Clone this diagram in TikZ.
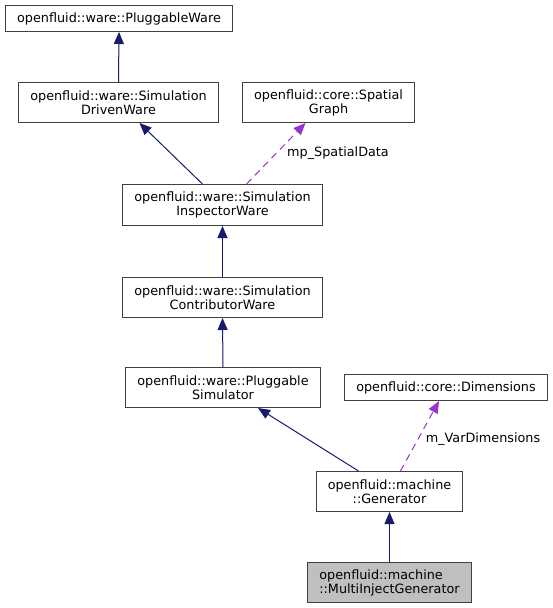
\documentclass[tikz,border=0pt]{standalone}
\usepackage{fontspec}
\setmainfont{DejaVu Sans}
\usetikzlibrary{arrows.meta}
\definecolor{edgeblue}{HTML}{191970}
\definecolor{edgepurple}{HTML}{9A32CD}
\definecolor{boxborder}{HTML}{404040}
\begin{document}
\begin{tikzpicture}[x=1pt,y=-1pt,
  cls/.style={draw=boxborder, line width=1pt, fill=white, inner sep=0pt, align=center,
    font=\fontsize{12.8}{14}\selectfont, anchor=north west},
  inh/.style={draw=edgeblue, line width=1pt, -{Triangle[length=12pt,width=10pt]}},
  use/.style={draw=edgepurple, line width=1pt, dash pattern=on 7pt off 5pt, -{Triangle[length=12pt,width=10pt]}},
  lbl/.style={font=\fontsize{12.8}{14}\selectfont, inner sep=0pt}]
\useasboundingbox (0,0) rectangle (552,608);
\node[cls, minimum width=227pt, minimum height=26pt] (b1) at (5,5) {openfluid::ware::PluggableWare};
\node[cls, minimum width=200pt, minimum height=40pt] (b2) at (18,82) {openfluid::ware::Simulation\\DrivenWare};
\node[cls, minimum width=172pt, minimum height=40pt] (b3) at (242,82) {openfluid::core::Spatial\\Graph};
\node[cls, minimum width=200pt, minimum height=41pt] (b4) at (122,184) {openfluid::ware::Simulation\\InspectorWare};
\node[cls, minimum width=200pt, minimum height=40pt] (b5) at (122,277) {openfluid::ware::Simulation\\ContributorWare};
\node[cls, minimum width=195pt, minimum height=40pt] (b6) at (125,367) {openfluid::ware::Pluggable\\Simulator};
\node[cls, minimum width=203pt, minimum height=26pt] (b7) at (344,374) {openfluid::core::Dimensions};
\node[cls, minimum width=146pt, minimum height=40pt] (b8) at (316,471) {openfluid::machine\\::Generator};
\node[cls, minimum width=164pt, minimum height=40pt, align=left, fill={rgb,255:red,191;green,191;blue,191}] (b9) at (307,562) {openfluid::machine\\::MultiInjectGenerator};
\draw[inh] (b2.north) -- (b1.south);
\draw[inh] ([xshift=-20pt]b4.north) -- ([xshift=21pt]b2.south);
\draw[use] ([xshift=24pt]b4.north) -- ([xshift=-23pt]b3.south);
\node[lbl] (l1) at (338,153) {mp\_SpatialData};
\draw[inh] (b5.north) -- (b4.south);
\draw[inh] (b6.north) -- (b5.south);
\draw[inh] ([xshift=-31pt]b8.north) -- ([xshift=35pt]b6.south);
\draw[use] ([xshift=11pt]b8.north) -- ([xshift=-7pt]b7.south);
\node[lbl] (l2) at (483,439) {m\_VarDimensions};
\draw[inh] (b9.north) -- (b8.south);
\end{tikzpicture}
\end{document}
